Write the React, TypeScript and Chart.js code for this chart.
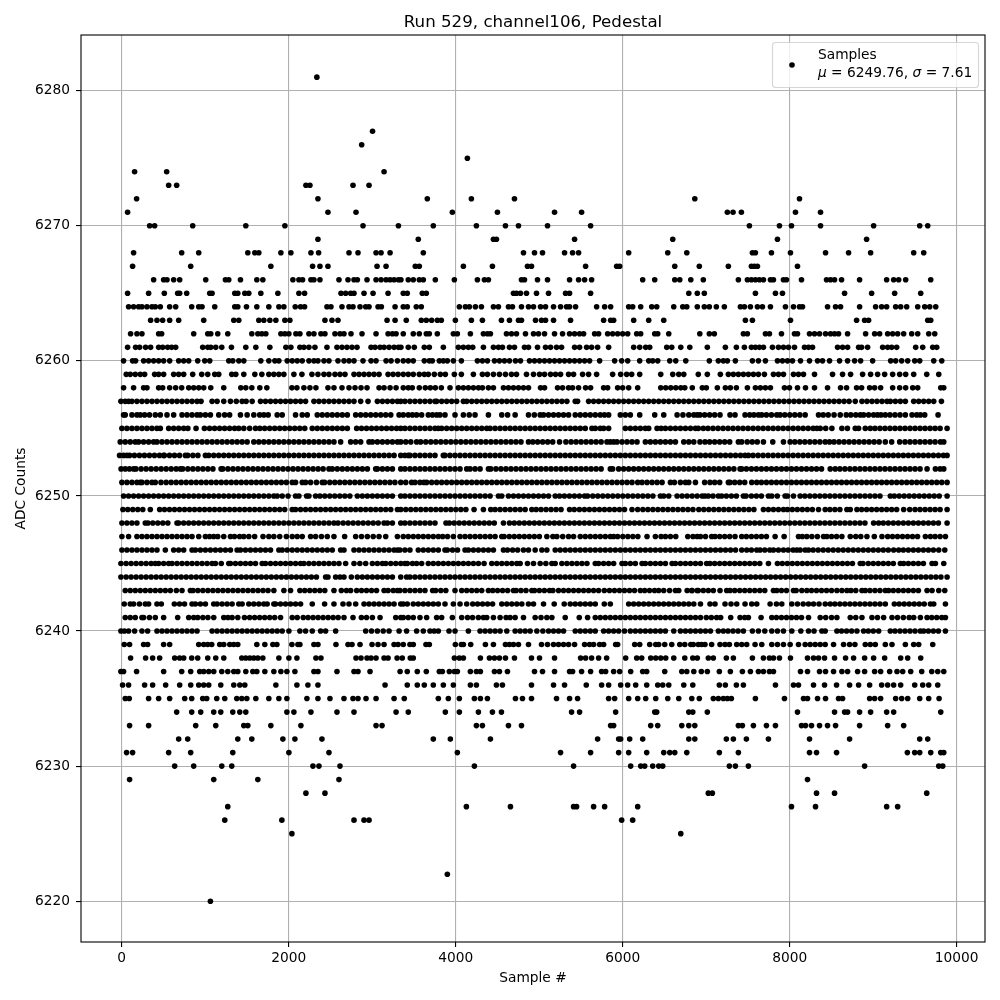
import React, { useEffect, useRef } from "react";
import { Chart, registerables } from "chart.js";

Chart.register(...registerables);

const chartTitle = "Run 529, channel106, Pedestal";
const xLabel = "Sample #";
const yLabel = "ADC Counts";
const legendName = "Samples";
const xTicks = [0, 2000, 4000, 6000, 8000, 10000];
const yTicks = [6220, 6230, 6240, 6250, 6260, 6270, 6280];
const READ_BIAS = 8;

const adc6281 = [2345];
const adc6277 = [3012];
const adc6276 = [2882];
const adc6275 = [4148];
const adc6274 = [162, 546, 3150];
const adc6273 = [570, 666, 2214, 2262, 2778, 2970];
const adc6272 = [186, 2358, 3668, 4196, 4712, 6872, 8126];
const adc6271 = [78, 2478, 2814, 3968, 4508, 5192, 5516, 7262, 7330, 7430, 8078, 8378];
const adc6270 = [342, 402, 858, 1494, 1962, 2898, 3322, 3740, 4256, 4604, 4760, 5108, 5624, 7526, 7886, 8030, 8378, 9014, 9566, 9662];
const adc6269 = [2358, 3560, 4460, 4496, 5432, 6608, 7862, 8930];
const adc6268 = [150, 726, 930, 1518, 1602, 1650, 1914, 2034, 2274, 2366, 2730, 2838, 3054, 3114, 3222, 3620, 4820, 4952, 5048, 5312, 5408, 5480, 6080, 6548, 6776, 7562, 7598, 7790, 8018, 8438, 8714, 8978, 9494, 9614];
const adc6267 = [138, 834, 1794, 2294, 2382, 2478, 3066, 3174, 3524, 3572, 4100, 4448, 4868, 4916, 5564, 5936, 5972, 6632, 6926, 7274, 7550, 7586, 7622, 8102];
const adc6266 = [390, 510, 550, 630, 702, 1014, 1250, 1290, 1430, 1626, 1698, 2058, 2130, 2174, 2274, 2310, 2382, 2610, 2718, 2790, 2830, 2946, 3054, 3114, 3174, 3222, 3270, 3322, 3352, 3440, 3500, 3572, 3620, 3764, 3992, 4268, 4352, 4400, 4796, 4832, 4988, 5108, 5372, 5480, 5552, 5636, 6248, 6392, 6632, 6692, 6824, 6974, 7394, 7502, 7550, 7598, 7646, 7694, 7778, 7814, 7934, 7970, 8150, 8450, 8498, 8546, 8630, 8846, 9170, 9254, 9314, 9398, 9698];
const adc6265 = [78, 330, 518, 678, 702, 786, 1062, 1090, 1362, 1398, 1482, 1530, 1674, 1878, 2130, 2198, 2634, 2690, 2750, 2790, 2910, 3018, 3198, 3380, 3428, 3608, 3656, 4700, 4736, 4784, 4856, 4976, 5120, 5324, 5372, 5624, 6800, 6902, 6986, 7598, 7838, 7922, 8666, 8990, 9266, 9578];
const adc6264 = [90, 150, 210, 250, 310, 370, 410, 470, 582, 654, 846, 930, 970, 1122, 1362, 1398, 1502, 1626, 1770, 1890, 1950, 2086, 2150, 2198, 2466, 2514, 2646, 2730, 2778, 2862, 2930, 2970, 3078, 3118, 3282, 3380, 3428, 3536, 3596, 4052, 4124, 4172, 4244, 4316, 4460, 4520, 4640, 4688, 4796, 4880, 4940, 5024, 5084, 5180, 5264, 5336, 5372, 5444, 5696, 5792, 5864, 6080, 6128, 6224, 6356, 6416, 6620, 6728, 6776, 6902, 6986, 7046, 7130, 7226, 7418, 7466, 7538, 7622, 7682, 7778, 7958, 8054, 8126, 8162, 8462, 8558, 8618, 8846, 9038, 9110, 9170, 9278, 9338, 9410, 9542, 9626, 9686, 9758];
const adc6263 = [354, 430, 498, 582, 690, 990, 1350, 1410, 1650, 1710, 1782, 1854, 1962, 2022, 2442, 2526, 2598, 3186, 3282, 3416, 3596, 3656, 3720, 3788, 3836, 4004, 4196, 4328, 4556, 4652, 4760, 4796, 4964, 5036, 5084, 5180, 5384, 5780, 5864, 5900, 6140, 6320, 6500, 7478, 7562, 8018, 8810, 8906, 8954, 9662, 9698];
const adc6262 = [114, 190, 250, 450, 486, 870, 1038, 1074, 1158, 1278, 1566, 1638, 1686, 1734, 1914, 1962, 2010, 2094, 2142, 2250, 2310, 2394, 2442, 2562, 2622, 2670, 2754, 2886, 3054, 3198, 3250, 3294, 3380, 3500, 3572, 3656, 3692, 3788, 3980, 4028, 4184, 4340, 4388, 4424, 4616, 4676, 4736, 4844, 4940, 5000, 5072, 5192, 5288, 5372, 5432, 5492, 5540, 5672, 5720, 5828, 5888, 5948, 6008, 6068, 6176, 6224, 6392, 6428, 6560, 6932, 7046, 7106, 7454, 7502, 7718, 7766, 7910, 8066, 8102, 8246, 8306, 8366, 8438, 8498, 8546, 8594, 8702, 8918, 9026, 9086, 9182, 9242, 9302, 9374, 9470, 9542, 9674, 9746];
const adc6261 = [78, 174, 222, 294, 354, 450, 498, 558, 606, 654, 978, 1038, 1074, 1134, 1206, 1322, 1494, 1614, 1782, 1974, 2034, 2142, 2190, 2250, 2322, 2466, 2586, 2646, 2706, 2766, 2826, 2994, 3042, 3102, 3150, 3210, 3270, 3322, 3352, 3440, 3512, 3632, 3692, 3860, 4040, 4100, 4160, 4212, 4340, 4460, 4520, 4568, 4652, 4712, 4832, 4880, 4988, 5084, 5144, 5216, 5276, 5432, 5492, 5576, 5636, 5708, 5840, 6140, 6212, 6284, 6332, 6536, 6596, 6704, 6812, 7022, 7238, 7370, 7466, 7550, 7598, 7646, 7694, 7802, 7874, 7934, 7994, 8066, 8186, 8234, 8282, 8582, 8642, 8702, 8834, 8870, 8942, 9122, 9182, 9230, 9290, 9518, 9602, 9722, 9770];
const adc6260 = [30, 138, 174, 270, 330, 390, 450, 510, 582, 690, 750, 810, 918, 1002, 1062, 1290, 1338, 1410, 1470, 1674, 1770, 1842, 1890, 1990, 2050, 2110, 2170, 2250, 2310, 2358, 2430, 2490, 2598, 2670, 2730, 2790, 2898, 2994, 3054, 3174, 3234, 3310, 3380, 3440, 3500, 3632, 3692, 3728, 3812, 3860, 3908, 3980, 4076, 4268, 4328, 4388, 4472, 4532, 4592, 4652, 4724, 4784, 4892, 4952, 5012, 5072, 5132, 5192, 5252, 5312, 5372, 5432, 5492, 5552, 5612, 5732, 5912, 5996, 6068, 6212, 6320, 6368, 6428, 6572, 6644, 6764, 7046, 7154, 7214, 7262, 7358, 7562, 7634, 7718, 7862, 7922, 7982, 8042, 8138, 8246, 8342, 8402, 8486, 8606, 8702, 8786, 8858, 9002, 9218, 9278, 9350, 9422, 9506, 9566, 9734, 9830];
const adc6259 = [62, 110, 170, 230, 282, 402, 450, 510, 630, 690, 750, 858, 966, 1038, 1122, 1170, 1326, 1374, 1470, 1602, 1686, 1770, 1830, 1890, 1950, 2070, 2166, 2286, 2358, 2430, 2490, 2562, 2622, 2682, 2790, 2850, 2910, 2970, 3030, 3090, 3198, 3258, 3318, 3380, 3440, 3500, 3572, 3632, 3680, 3752, 3824, 3884, 3992, 4076, 4220, 4328, 4388, 4460, 4532, 4604, 4676, 4736, 4856, 4940, 5012, 5072, 5144, 5204, 5264, 5360, 5420, 5528, 5600, 5696, 5888, 5984, 6056, 6116, 6212, 6464, 6608, 6680, 6740, 6914, 7022, 7178, 7274, 7334, 7394, 7454, 7514, 7574, 7634, 7706, 7814, 7874, 7934, 8054, 8114, 8174, 8306, 8522, 8642, 8738, 8882, 8978, 9062, 9146, 9242, 9326, 9398, 9494, 9650, 9794];
const adc6258 = [30, 150, 270, 310, 450, 498, 582, 654, 726, 810, 870, 930, 990, 1074, 1230, 1434, 1494, 1566, 1662, 1746, 2046, 2106, 2190, 2262, 2334, 2478, 2550, 2646, 2730, 2802, 2874, 2946, 3090, 3150, 3222, 3294, 3380, 3440, 3488, 3572, 3644, 3704, 3764, 3836, 3940, 4040, 4100, 4160, 4220, 4280, 4328, 4400, 4460, 4580, 4640, 4700, 4760, 4820, 4880, 5024, 5072, 5228, 5288, 5360, 5408, 5480, 5564, 5624, 5780, 5828, 5948, 6008, 6080, 6188, 6464, 6524, 6584, 6644, 6704, 6752, 6842, 6962, 7010, 7142, 7238, 7298, 7370, 7502, 7598, 7658, 7718, 7778, 7946, 8006, 8102, 8198, 8306, 8462, 8618, 8690, 8810, 8870, 8966, 9026, 9098, 9242, 9326, 9398, 9482, 9542, 9818, 9854];
const adc6257 = [-2, 50, 90, 130, 190, 250, 310, 370, 430, 490, 550, 610, 670, 730, 790, 850, 910, 958, 1090, 1150, 1230, 1310, 1380, 1450, 1498, 1570, 1670, 1730, 1790, 1850, 1910, 1970, 2030, 2090, 2150, 2210, 2310, 2370, 2430, 2490, 2550, 2610, 2670, 2730, 2790, 2870, 2958, 3070, 3130, 3190, 3250, 3310, 3350, 3400, 3460, 3520, 3580, 3640, 3700, 3760, 3780, 3840, 3900, 3960, 4020, 4100, 4140, 4200, 4260, 4320, 4380, 4440, 4500, 4560, 4620, 4680, 4740, 4800, 4860, 4920, 4980, 5040, 5100, 5160, 5220, 5280, 5340, 5440, 5468, 5600, 5660, 5720, 5780, 5840, 5900, 5960, 6020, 6080, 6140, 6200, 6260, 6320, 6380, 6440, 6500, 6560, 6620, 6680, 6740, 6800, 6860, 6920, 6980, 7040, 7100, 7160, 7220, 7280, 7340, 7400, 7460, 7520, 7580, 7640, 7700, 7760, 7820, 7880, 7940, 8000, 8060, 8120, 8180, 8240, 8300, 8360, 8420, 8480, 8540, 8600, 8660, 8720, 8794, 8874, 8934, 8994, 9054, 9114, 9174, 9214, 9274, 9334, 9394, 9494, 9554, 9614, 9674, 9734, 9826];
const adc6256 = [30, 50, 130, 190, 230, 282, 340, 410, 470, 550, 630, 730, 790, 850, 910, 950, 1010, 1070, 1170, 1240, 1300, 1430, 1510, 1590, 1660, 1710, 1762, 1870, 1930, 2090, 2170, 2230, 2350, 2410, 2470, 2530, 2590, 2650, 2710, 2810, 2870, 2930, 2990, 3050, 3110, 3170, 3230, 3330, 3380, 3440, 3490, 3540, 3600, 3680, 3730, 3780, 3820, 3880, 4000, 4100, 4170, 4240, 4400, 4560, 4630, 4720, 4880, 4950, 5020, 5060, 5120, 5180, 5240, 5300, 5360, 5440, 5500, 5560, 5620, 5680, 5740, 5790, 5840, 5980, 6040, 6100, 6212, 6392, 6500, 6660, 6730, 6800, 6860, 6900, 6934, 6990, 7050, 7110, 7174, 7294, 7354, 7474, 7530, 7580, 7634, 7674, 7730, 7790, 7854, 7894, 7950, 8010, 8070, 8130, 8194, 8354, 8410, 8470, 8540, 8614, 8686, 8740, 8800, 8854, 8894, 8954, 9014, 9060, 9102, 9154, 9210, 9270, 9330, 9394, 9474, 9530, 9574, 9626, 9786];
const adc6255 = [10, 70, 130, 190, 250, 310, 370, 430, 470, 570, 630, 690, 750, 800, 898, 998, 1060, 1120, 1180, 1240, 1300, 1360, 1410, 1470, 1540, 1610, 1662, 1720, 1780, 1840, 1900, 1960, 2020, 2080, 2140, 2200, 2290, 2350, 2410, 2470, 2530, 2590, 2650, 2710, 2822, 2880, 2940, 3000, 3060, 3120, 3180, 3240, 3300, 3350, 3400, 3460, 3520, 3580, 3640, 3700, 3760, 3800, 3840, 3900, 3960, 4020, 4080, 4140, 4200, 4260, 4320, 4380, 4420, 4480, 4540, 4600, 4660, 4720, 4780, 4840, 4900, 4960, 5020, 5080, 5140, 5200, 5260, 5320, 5380, 5440, 5500, 5560, 5640, 5680, 5740, 5780, 5840, 6040, 6100, 6160, 6220, 6280, 6320, 6420, 6468, 6520, 6580, 6640, 6700, 6760, 6820, 6880, 6914, 6974, 7030, 7090, 7150, 7210, 7270, 7330, 7390, 7450, 7510, 7570, 7630, 7690, 7750, 7810, 7870, 7930, 7990, 8050, 8110, 8170, 8230, 8290, 8334, 8374, 8440, 8514, 8634, 8700, 8794, 8834, 8914, 8974, 9030, 9090, 9150, 9210, 9270, 9330, 9390, 9450, 9510, 9570, 9630, 9690, 9750, 9810, 9894];
const adc6254 = [-10, 50, 110, 170, 210, 270, 330, 390, 430, 490, 550, 610, 670, 730, 790, 850, 910, 970, 1030, 1090, 1150, 1210, 1270, 1330, 1390, 1450, 1510, 1590, 1650, 1710, 1770, 1830, 1890, 1950, 2010, 2070, 2130, 2190, 2250, 2310, 2370, 2430, 2490, 2550, 2630, 2750, 2810, 2870, 2970, 3010, 3070, 3130, 3190, 3250, 3310, 3350, 3410, 3470, 3540, 3588, 3650, 3710, 3770, 3830, 3890, 3950, 4010, 4070, 4130, 4190, 4250, 4310, 4370, 4430, 4490, 4550, 4610, 4670, 4730, 4790, 4880, 4932, 4990, 5050, 5110, 5170, 5252, 5328, 5390, 5450, 5510, 5570, 5630, 5690, 5750, 5820, 5860, 5900, 5940, 6000, 6060, 6120, 6180, 6280, 6340, 6400, 6460, 6520, 6580, 6640, 6740, 6800, 6860, 6934, 6994, 7050, 7110, 7170, 7230, 7290, 7394, 7434, 7500, 7560, 7620, 7694, 7806, 7934, 8014, 8070, 8130, 8190, 8250, 8310, 8370, 8434, 8486, 8540, 8600, 8660, 8720, 8780, 8840, 8900, 8960, 9020, 9080, 9154, 9230, 9326, 9390, 9450, 9510, 9570, 9630, 9690, 9750, 9814, 9854];
const adc6253 = [-18, 30, 70, 102, 160, 220, 280, 340, 400, 460, 510, 518, 580, 640, 700, 770, 798, 860, 920, 1010, 1050, 1110, 1170, 1230, 1290, 1350, 1410, 1470, 1530, 1590, 1650, 1710, 1770, 1830, 1890, 1950, 2010, 2070, 2130, 2190, 2250, 2310, 2370, 2430, 2490, 2550, 2610, 2670, 2730, 2790, 2850, 2910, 2970, 3030, 3090, 3150, 3210, 3270, 3350, 3400, 3440, 3460, 3520, 3580, 3640, 3700, 3760, 3860, 3880, 3940, 4000, 4060, 4120, 4180, 4240, 4300, 4360, 4420, 4480, 4540, 4600, 4660, 4720, 4780, 4840, 4900, 4960, 5020, 5080, 5140, 5200, 5260, 5320, 5380, 5440, 5500, 5560, 5620, 5680, 5740, 5800, 5860, 5920, 5980, 6040, 6100, 6160, 6220, 6280, 6340, 6400, 6460, 6520, 6580, 6640, 6700, 6760, 6820, 6880, 6940, 7000, 7060, 7120, 7180, 7240, 7300, 7360, 7420, 7474, 7514, 7570, 7630, 7690, 7750, 7810, 7870, 7930, 7990, 8050, 8110, 8170, 8230, 8290, 8350, 8410, 8470, 8530, 8590, 8650, 8710, 8770, 8830, 8890, 8950, 9010, 9070, 9130, 9190, 9250, 9310, 9370, 9430, 9490, 9550, 9610, 9670, 9730, 9790, 9850, 9894];
const adc6252 = [0, 50, 100, 150, 178, 240, 300, 360, 420, 480, 540, 600, 660, 710, 738, 800, 860, 920, 980, 1040, 1100, 1198, 1218, 1280, 1340, 1400, 1460, 1520, 1580, 1640, 1700, 1760, 1820, 1880, 1940, 2000, 2060, 2120, 2180, 2240, 2300, 2360, 2420, 2490, 2530, 2590, 2650, 2710, 2770, 2830, 2890, 2950, 3050, 3070, 3130, 3190, 3250, 3350, 3400, 3460, 3520, 3580, 3640, 3700, 3760, 3820, 3880, 3940, 4000, 4060, 4140, 4180, 4240, 4300, 4400, 4428, 4490, 4550, 4610, 4670, 4730, 4790, 4850, 4910, 4970, 5030, 5090, 5150, 5210, 5270, 5330, 5390, 5450, 5510, 5570, 5630, 5690, 5750, 5860, 5888, 5960, 6020, 6080, 6140, 6200, 6260, 6320, 6380, 6440, 6500, 6560, 6620, 6680, 6740, 6800, 6860, 6920, 6980, 7040, 7100, 7160, 7220, 7280, 7340, 7414, 7434, 7490, 7550, 7610, 7670, 7730, 7790, 7850, 7910, 7970, 8030, 8090, 8150, 8210, 8270, 8330, 8390, 8494, 8554, 8610, 8670, 8730, 8790, 8850, 8910, 8970, 9030, 9090, 9150, 9210, 9270, 9330, 9390, 9450, 9510, 9570, 9654, 9754, 9810, 9854];
const adc6251 = [10, 70, 130, 190, 230, 250, 310, 370, 410, 478, 540, 600, 660, 720, 780, 840, 900, 960, 1020, 1080, 1140, 1200, 1260, 1320, 1380, 1440, 1500, 1560, 1620, 1680, 1740, 1800, 1860, 1920, 1980, 2050, 2090, 2170, 2210, 2270, 2340, 2410, 2438, 2500, 2560, 2620, 2680, 2740, 2800, 2860, 2920, 2980, 3040, 3100, 3160, 3220, 3280, 3350, 3410, 3480, 3520, 3580, 3628, 3660, 3720, 3780, 3840, 3900, 3960, 4020, 4080, 4140, 4200, 4260, 4320, 4380, 4440, 4500, 4560, 4620, 4680, 4740, 4800, 4860, 4920, 4980, 5040, 5100, 5160, 5220, 5280, 5340, 5400, 5460, 5520, 5580, 5640, 5700, 5760, 5820, 5880, 5940, 6000, 6060, 6120, 6188, 6240, 6300, 6360, 6420, 6480, 6580, 6628, 6700, 6760, 6800, 6880, 6990, 7054, 7110, 7170, 7274, 7294, 7350, 7410, 7470, 7554, 7614, 7670, 7730, 7790, 7850, 7910, 7970, 8030, 8090, 8150, 8210, 8270, 8330, 8390, 8450, 8510, 8570, 8630, 8690, 8750, 8810, 8870, 8930, 8990, 9050, 9110, 9170, 9230, 9290, 9350, 9410, 9470, 9530, 9590, 9650, 9710, 9770, 9830, 9894];
const adc6250 = [30, 90, 150, 210, 270, 330, 390, 450, 510, 570, 630, 690, 750, 810, 870, 930, 990, 1050, 1110, 1170, 1230, 1290, 1350, 1410, 1470, 1530, 1590, 1650, 1710, 1770, 1830, 1870, 1930, 2000, 2090, 2130, 2222, 2250, 2330, 2382, 2440, 2500, 2560, 2620, 2680, 2740, 2830, 2890, 2950, 3010, 3070, 3130, 3190, 3250, 3350, 3400, 3460, 3520, 3580, 3640, 3700, 3760, 3820, 3880, 3940, 4000, 4060, 4120, 4180, 4240, 4300, 4360, 4420, 4520, 4560, 4640, 4700, 4760, 4820, 4880, 4940, 5000, 5060, 5120, 5200, 5252, 5310, 5370, 5430, 5490, 5552, 5588, 5650, 5710, 5770, 5830, 5890, 5950, 6010, 6070, 6130, 6190, 6250, 6310, 6370, 6460, 6500, 6560, 6660, 6720, 6780, 6840, 6900, 6960, 6994, 7034, 7090, 7154, 7194, 7250, 7310, 7370, 7454, 7486, 7550, 7610, 7670, 7754, 7794, 7860, 7954, 7982, 8054, 8134, 8190, 8250, 8310, 8370, 8430, 8490, 8550, 8610, 8670, 8730, 8790, 8850, 8910, 8970, 9030, 9090, 9214, 9262, 9320, 9380, 9440, 9500, 9560, 9620, 9680, 9740, 9800, 9894];
const adc6249 = [22, 80, 140, 200, 260, 350, 462, 520, 580, 640, 700, 760, 820, 880, 940, 1000, 1060, 1120, 1180, 1240, 1300, 1360, 1420, 1480, 1540, 1600, 1660, 1720, 1780, 1840, 1900, 1960, 2050, 2090, 2150, 2210, 2270, 2330, 2390, 2450, 2510, 2570, 2630, 2690, 2750, 2810, 2870, 2930, 2990, 3050, 3110, 3170, 3230, 3310, 3350, 3410, 3470, 3530, 3590, 3650, 3710, 3770, 3830, 3890, 3950, 4010, 4070, 4130, 4228, 4340, 4428, 4480, 4540, 4600, 4660, 4720, 4780, 4840, 4920, 4972, 5030, 5090, 5150, 5210, 5270, 5372, 5428, 5490, 5550, 5610, 5670, 5730, 5790, 5850, 5910, 5970, 6030, 6120, 6188, 6250, 6310, 6370, 6430, 6490, 6550, 6610, 6670, 6730, 6790, 6850, 6920, 6980, 7040, 7100, 7160, 7220, 7280, 7340, 7400, 7460, 7520, 7580, 7694, 7754, 7814, 7874, 7934, 7982, 8040, 8100, 8160, 8220, 8280, 8354, 8434, 8490, 8550, 8610, 8694, 8734, 8814, 8870, 8930, 8990, 9050, 9110, 9170, 9230, 9290, 9374, 9446, 9510, 9570, 9630, 9690, 9750, 9810, 9894];
const adc6248 = [10, 70, 130, 190, 290, 322, 380, 440, 500, 560, 670, 690, 750, 810, 870, 930, 990, 1050, 1110, 1170, 1230, 1290, 1350, 1410, 1470, 1530, 1590, 1650, 1710, 1770, 1830, 1890, 1950, 2010, 2070, 2130, 2190, 2250, 2310, 2370, 2430, 2490, 2550, 2598, 2660, 2720, 2780, 2840, 2900, 2960, 3020, 3080, 3150, 3190, 3250, 3350, 3400, 3460, 3520, 3580, 3640, 3700, 3760, 3892, 3932, 3990, 4050, 4110, 4170, 4230, 4290, 4350, 4410, 4470, 4580, 4652, 4710, 4770, 4830, 4890, 4950, 5010, 5070, 5130, 5190, 5250, 5310, 5370, 5430, 5490, 5550, 5610, 5670, 5730, 5790, 5850, 5910, 5970, 6030, 6090, 6150, 6210, 6270, 6330, 6390, 6450, 6510, 6570, 6630, 6690, 6750, 6810, 6870, 6930, 6990, 7050, 7110, 7170, 7230, 7290, 7350, 7410, 7470, 7530, 7590, 7650, 7710, 7770, 7830, 7890, 7950, 8010, 8070, 8130, 8190, 8250, 8310, 8370, 8430, 8490, 8550, 8610, 8670, 8730, 8790, 8850, 8910, 9014, 9074, 9130, 9190, 9250, 9310, 9370, 9430, 9490, 9550, 9610, 9670, 9730, 9790, 9894];
const adc6247 = [10, 90, 190, 250, 310, 370, 430, 490, 550, 610, 670, 730, 790, 850, 930, 1010, 1060, 1110, 1158, 1230, 1310, 1358, 1420, 1470, 1530, 1600, 1700, 1770, 1830, 1900, 1980, 2050, 2110, 2170, 2270, 2330, 2400, 2470, 2550, 2678, 2810, 2880, 2950, 3020, 3090, 3170, 3310, 3380, 3440, 3500, 3560, 3620, 3680, 3740, 3800, 3852, 3910, 3980, 4060, 4120, 4180, 4240, 4300, 4360, 4420, 4480, 4560, 4588, 4650, 4710, 4770, 4830, 4890, 4950, 5010, 5100, 5172, 5220, 5290, 5360, 5420, 5500, 5560, 5620, 5680, 5740, 5800, 5860, 5900, 5948, 6010, 6070, 6130, 6190, 6300, 6400, 6468, 6520, 6580, 6644, 6788, 6850, 6900, 6940, 7000, 7074, 7114, 7170, 7230, 7290, 7354, 7434, 7490, 7550, 7610, 7670, 7730, 7834, 7942, 8114, 8160, 8214, 8274, 8340, 8414, 8454, 8510, 8570, 8634, 8734, 8800, 8860, 8934, 9022, 9114, 9182, 9240, 9300, 9360, 9420, 9480, 9540, 9634, 9694, 9750, 9810, 9874];
const adc6246 = [10, 70, 130, 190, 250, 310, 370, 430, 530, 630, 690, 750, 850, 890, 950, 1010, 1070, 1130, 1190, 1250, 1310, 1390, 1430, 1490, 1550, 1610, 1670, 1730, 1790, 1890, 1930, 1990, 2050, 2110, 2170, 2230, 2290, 2350, 2410, 2470, 2530, 2630, 2670, 2790, 2850, 2910, 2970, 3030, 3090, 3150, 3210, 3270, 3310, 3340, 3400, 3460, 3560, 3620, 3680, 3740, 3800, 3880, 3908, 3970, 4030, 4120, 4160, 4220, 4280, 4340, 4400, 4460, 4580, 4628, 4690, 4750, 4820, 4880, 4960, 5040, 5100, 5200, 5260, 5320, 5380, 5440, 5500, 5560, 5620, 5680, 5740, 5800, 5860, 5920, 5980, 6040, 6100, 6160, 6220, 6280, 6340, 6400, 6460, 6520, 6580, 6640, 6700, 6760, 6820, 6880, 6940, 7000, 7060, 7120, 7180, 7240, 7300, 7360, 7434, 7494, 7550, 7614, 7654, 7710, 7770, 7814, 7874, 7934, 7990, 8050, 8094, 8134, 8194, 8234, 8290, 8350, 8410, 8470, 8530, 8590, 8650, 8710, 8770, 8830, 8890, 8950, 9010, 9070, 9130, 9190, 9254, 9314, 9370, 9430, 9490, 9550, 9610, 9670, 9730, 9794, 9866];
const adc6245 = [-2, 60, 120, 180, 240, 300, 360, 410, 450, 510, 570, 610, 670, 730, 790, 850, 910, 970, 1030, 1090, 1130, 1200, 1290, 1310, 1370, 1430, 1490, 1550, 1610, 1690, 1730, 1790, 1850, 1910, 1970, 2030, 2090, 2150, 2190, 2250, 2310, 2370, 2430, 2490, 2550, 2610, 2690, 2790, 2860, 2930, 3010, 3070, 3130, 3170, 3230, 3290, 3350, 3400, 3428, 3490, 3540, 3600, 3680, 3740, 3800, 3860, 3920, 3980, 4040, 4100, 4160, 4220, 4280, 4348, 4440, 4500, 4560, 4620, 4680, 4740, 4780, 4868, 4940, 5020, 5088, 5160, 5200, 5280, 5340, 5400, 5460, 5520, 5580, 5680, 5720, 5780, 5840, 5900, 6000, 6040, 6100, 6160, 6240, 6280, 6340, 6400, 6460, 6520, 6600, 6640, 6700, 6760, 6820, 6880, 6940, 7014, 7054, 7110, 7170, 7230, 7290, 7350, 7410, 7470, 7530, 7590, 7650, 7754, 7862, 7920, 7980, 8040, 8100, 8160, 8220, 8280, 8340, 8400, 8460, 8520, 8580, 8640, 8700, 8760, 8854, 8886, 8950, 9010, 9070, 9130, 9190, 9250, 9334, 9374, 9430, 9490, 9550, 9610, 9714, 9754, 9854];
const adc6244 = [-2, 60, 120, 180, 240, 300, 360, 420, 480, 540, 600, 660, 720, 780, 840, 900, 960, 1020, 1080, 1140, 1200, 1260, 1320, 1380, 1440, 1500, 1560, 1620, 1680, 1740, 1800, 1860, 1920, 1980, 2040, 2100, 2160, 2220, 2280, 2340, 2450, 2478, 2570, 2622, 2670, 2758, 2830, 2890, 2950, 3010, 3070, 3130, 3190, 3250, 3350, 3420, 3460, 3520, 3580, 3640, 3700, 3760, 3820, 3880, 3940, 4000, 4060, 4120, 4180, 4240, 4300, 4360, 4420, 4480, 4540, 4600, 4660, 4720, 4780, 4840, 4900, 4960, 5020, 5080, 5140, 5200, 5260, 5320, 5380, 5440, 5500, 5560, 5620, 5680, 5740, 5800, 5860, 5920, 5980, 6040, 6100, 6160, 6220, 6280, 6340, 6400, 6460, 6520, 6580, 6640, 6700, 6760, 6820, 6880, 6940, 7000, 7060, 7120, 7180, 7240, 7300, 7360, 7420, 7480, 7540, 7600, 7660, 7720, 7780, 7840, 7900, 7960, 8020, 8080, 8140, 8200, 8260, 8320, 8380, 8440, 8500, 8560, 8620, 8680, 8740, 8800, 8860, 8920, 8980, 9040, 9100, 9160, 9220, 9280, 9340, 9400, 9460, 9520, 9580, 9640, 9700, 9760, 9820, 9894];
const adc6243 = [50, 110, 170, 230, 290, 350, 410, 470, 530, 590, 662, 730, 830, 862, 920, 980, 1040, 1100, 1160, 1220, 1280, 1340, 1400, 1460, 1520, 1580, 1640, 1700, 1760, 1830, 1950, 2030, 2142, 2200, 2260, 2320, 2380, 2440, 2550, 2638, 2700, 2750, 2822, 2880, 2940, 3000, 3060, 3150, 3198, 3260, 3310, 3340, 3400, 3460, 3520, 3580, 3640, 3732, 3768, 3830, 3890, 4000, 4080, 4140, 4200, 4260, 4320, 4400, 4452, 4510, 4570, 4630, 4700, 4732, 4790, 4850, 4920, 4952, 5010, 5070, 5132, 5172, 5240, 5300, 5360, 5420, 5480, 5540, 5600, 5660, 5720, 5788, 5850, 5910, 5970, 6030, 6090, 6150, 6220, 6272, 6330, 6390, 6440, 6500, 6570, 6640, 6680, 6780, 6840, 6900, 6834, 6914, 6974, 7034, 7094, 7174, 7254, 7294, 7350, 7410, 7470, 7530, 7590, 7650, 7710, 7814, 7854, 7910, 7970, 8054, 8086, 8154, 8214, 8270, 8330, 8390, 8450, 8510, 8574, 8634, 8694, 8742, 8800, 8874, 8914, 8970, 9030, 9090, 9154, 9194, 9250, 9310, 9370, 9430, 9490, 9550, 9654, 9714, 9794, 9866];
const adc6242 = [38, 110, 150, 220, 290, 330, 430, 482, 638, 700, 760, 850, 890, 950, 1010, 1110, 1150, 1210, 1270, 1330, 1410, 1450, 1530, 1590, 1650, 1710, 1750, 1830, 1850, 1910, 1970, 2030, 2090, 2150, 2290, 2438, 2550, 2658, 2730, 2810, 2910, 2970, 3030, 3090, 3150, 3210, 3270, 3350, 3380, 3428, 3500, 3560, 3620, 3680, 3740, 3800, 3880, 3980, 4060, 4140, 4212, 4270, 4330, 4390, 4450, 4560, 4620, 4680, 4740, 4800, 4880, 4940, 5060, 5188, 5308, 5380, 5440, 5500, 5560, 5620, 5680, 5788, 5860, 6080, 6140, 6200, 6260, 6320, 6380, 6440, 6500, 6560, 6620, 6680, 6740, 6800, 6860, 6940, 7054, 7114, 7234, 7306, 7374, 7474, 7554, 7614, 7774, 7850, 7914, 8034, 8102, 8170, 8234, 8294, 8360, 8434, 8494, 8550, 8610, 8670, 8730, 8790, 8850, 8910, 8970, 9030, 9090, 9154, 9262, 9320, 9380, 9440, 9500, 9560, 9620, 9694, 9734, 9874];
const adc6241 = [50, 110, 170, 250, 270, 340, 410, 510, 678, 810, 870, 918, 980, 1040, 1110, 1230, 1280, 1330, 1398, 1478, 1540, 1600, 1660, 1720, 1780, 1840, 1910, 2050, 2110, 2182, 2240, 2300, 2360, 2420, 2480, 2540, 2600, 2670, 2778, 2878, 2940, 3010, 3102, 3290, 3350, 3380, 3440, 3500, 3580, 3660, 3780, 3840, 3968, 4080, 4150, 4210, 4280, 4340, 4380, 4460, 4540, 4612, 4660, 4720, 4820, 4960, 5030, 5100, 5160, 5320, 5488, 5588, 5680, 5740, 5800, 5860, 5920, 5980, 6040, 6100, 6160, 6220, 6280, 6340, 6400, 6460, 6520, 6580, 6640, 6700, 6760, 6820, 6880, 6940, 7010, 7070, 7134, 7182, 7302, 7414, 7470, 7514, 7666, 7794, 7850, 7910, 7970, 8030, 8090, 8150, 8234, 8374, 8440, 8510, 8574, 8734, 8800, 8874, 8994, 9060, 9134, 9234, 9300, 9370, 9440, 9494, 9574, 9654, 9710, 9770, 9830, 9874];
const adc6240 = [-2, 40, 90, 162, 250, 318, 430, 490, 550, 610, 670, 730, 790, 850, 910, 1090, 1150, 1210, 1270, 1330, 1390, 1450, 1510, 1570, 1630, 1690, 1750, 1810, 1870, 1930, 2010, 2142, 2210, 2290, 2390, 2450, 2570, 2930, 3000, 3070, 3140, 3210, 3330, 3420, 3540, 3620, 3700, 3750, 3800, 3928, 4000, 4160, 4300, 4360, 4420, 4480, 4540, 4620, 4720, 4780, 4840, 4900, 4980, 5052, 5120, 5180, 5240, 5300, 5440, 5500, 5560, 5620, 5680, 5780, 5840, 5900, 5960, 6030, 6100, 6160, 6220, 6280, 6340, 6400, 6460, 6520, 6620, 6700, 6760, 6820, 6880, 6940, 7000, 7060, 7154, 7214, 7270, 7330, 7390, 7454, 7562, 7634, 7710, 7794, 7862, 7934, 8034, 8142, 8234, 8300, 8394, 8434, 8574, 8630, 8690, 8750, 8814, 8894, 8950, 9010, 9074, 9214, 9270, 9330, 9390, 9450, 9510, 9574, 9614, 9670, 9730, 9790, 9874];
const adc6239 = [38, 102, 270, 318, 510, 582, 930, 990, 1038, 1086, 1182, 1230, 1302, 1350, 1398, 1626, 1722, 1818, 1866, 2046, 2118, 2142, 2310, 2358, 2574, 2718, 2766, 2862, 3006, 3078, 3150, 3270, 3318, 3380, 3460, 3500, 3652, 3692, 4004, 4076, 4100, 4188, 4364, 4460, 4604, 4652, 4700, 4760, 4880, 5036, 5108, 5180, 5240, 5300, 5360, 5432, 5552, 5612, 5660, 5732, 5780, 5924, 5948, 6152, 6212, 6332, 6404, 6440, 6512, 6596, 6692, 6752, 6824, 6854, 6914, 6954, 6994, 7074, 7174, 7234, 7286, 7374, 7434, 7494, 7594, 7674, 7794, 7862, 7934, 8014, 8114, 8194, 8254, 8314, 8374, 8434, 8534, 8654, 8726, 8790, 8914, 8974, 9034, 9154, 9234, 9394, 9494, 9554, 9722];
const adc6238 = [114, 294, 378, 462, 642, 702, 750, 846, 918, 1038, 1134, 1230, 1446, 1494, 1542, 1590, 1638, 1698, 1890, 2010, 2106, 2334, 2394, 2814, 2874, 2946, 2994, 3054, 3150, 3198, 3306, 3368, 3464, 3500, 3992, 4052, 4100, 4304, 4412, 4472, 4532, 4604, 4712, 4916, 5012, 5192, 5504, 5564, 5636, 5720, 5816, 6044, 6176, 6236, 6344, 6404, 6464, 6524, 6620, 6752, 6848, 6902, 7034, 7094, 7250, 7334, 7562, 7694, 7766, 7814, 7886, 8018, 8222, 8294, 8354, 8426, 8546, 8678, 8774, 8906, 9014, 9146, 9338, 9422, 9578];
const adc6237 = [-2, 30, 186, 510, 726, 834, 942, 990, 1050, 1110, 1206, 1278, 1350, 1398, 1494, 1578, 1626, 1722, 1830, 1914, 1986, 2082, 2310, 2358, 2586, 2790, 2838, 2982, 3342, 3428, 3548, 3656, 3812, 3848, 3932, 3992, 4028, 4184, 4256, 4304, 4472, 4532, 4628, 4952, 5048, 5192, 5372, 5408, 5516, 5624, 5756, 5804, 5900, 5972, 6104, 6248, 6296, 6512, 6716, 6776, 6860, 6950, 7022, 7166, 7298, 7442, 7538, 7634, 7694, 7766, 7814, 8138, 8222, 8366, 8438, 8534, 8634, 8702, 8822, 8906, 9026, 9098, 9206, 9294, 9362, 9458, 9590, 9710, 9782, 9854];
const adc6236 = [18, 90, 282, 378, 534, 702, 834, 930, 990, 1050, 1194, 1350, 1422, 1482, 1854, 2106, 2238, 2358, 3162, 3428, 3548, 3632, 3740, 3860, 3980, 4184, 4256, 4496, 4568, 4916, 5180, 5312, 5572, 5756, 5840, 5984, 6068, 6164, 6296, 6428, 6488, 6560, 6740, 6848, 7166, 7238, 7370, 7454, 7838, 8054, 8114, 8294, 8426, 8570, 8726, 8834, 8966, 9110, 9182, 9254, 9338, 9506, 9602, 9674, 9782];
const adc6235 = [50, 98, 330, 450, 582, 762, 846, 978, 1026, 1146, 1242, 1386, 1446, 1506, 1614, 1770, 1890, 1986, 2226, 2358, 2502, 2670, 2778, 2838, 2934, 3054, 3270, 3392, 3800, 3920, 4052, 4232, 4304, 4388, 4724, 4808, 4916, 5216, 5372, 5468, 5840, 5912, 6080, 6188, 6284, 6404, 6548, 6680, 6836, 6926, 7094, 7154, 7214, 7262, 7310, 7598, 7946, 8174, 8222, 8342, 8438, 8594, 8642, 8966, 9026, 9098, 9278, 9350, 9422, 9566, 9674, 9798];
const adc6234 = [666, 846, 954, 1110, 1194, 1338, 1422, 1494, 1986, 2070, 2274, 2586, 2790, 3294, 3440, 3884, 4052, 4280, 4448, 4556, 5396, 5492, 5924, 6392, 6416, 6800, 6848, 7022, 8102, 8546, 8666, 8702, 8846, 8978, 9170, 9254, 9818];
const adc6233 = [102, 330, 894, 1134, 1470, 1518, 1794, 2154, 3054, 3126, 4256, 4328, 4640, 4796, 5864, 5900, 6344, 6428, 6716, 6800, 6872, 7394, 7442, 7574, 7730, 7838, 8150, 8198, 8270, 8366, 8462, 8558, 8846, 9182, 9374];
const adc6232 = [690, 798, 1398, 1566, 1938, 2082, 2406, 3740, 3944, 4424, 5708, 5960, 5984, 6092, 6248, 6800, 6872, 7250, 7334, 7490, 7754, 8246, 8726, 9566, 9662];
const adc6231 = [66, 138, 570, 834, 1338, 2010, 2490, 4028, 5264, 5624, 5960, 6080, 6296, 6500, 6572, 6632, 6776, 7166, 7394, 8246, 8330, 8570, 9418, 9506, 9566, 9698, 9818, 9854];
const adc6230 = [642, 870, 1206, 1326, 2298, 2370, 2622, 4232, 5420, 6104, 6224, 6272, 6368, 6440, 6488, 7286, 7358, 7514, 8906, 9794, 9842];
const adc6229 = [102, 1110, 1638, 2610, 8222];
const adc6228 = [2214, 2442, 7034, 7082, 8330, 8546, 9650];
const adc6227 = [1278, 4136, 4664, 5420, 5456, 5660, 5792, 6188, 8030, 8318, 9170, 9302];
const adc6226 = [1242, 1926, 2790, 2910, 2970, 5996, 6128];
const adc6225 = [2046, 6704];
const adc6222 = [3908];
const adc6220 = [1070];

const levels: [number, number[]][] = [
  [6281, adc6281], [6277, adc6277], [6276, adc6276], [6275, adc6275], [6274, adc6274], [6273, adc6273],
  [6272, adc6272], [6271, adc6271], [6270, adc6270], [6269, adc6269], [6268, adc6268], [6267, adc6267],
  [6266, adc6266], [6265, adc6265], [6264, adc6264], [6263, adc6263], [6262, adc6262], [6261, adc6261],
  [6260, adc6260], [6259, adc6259], [6258, adc6258], [6257, adc6257], [6256, adc6256], [6255, adc6255],
  [6254, adc6254], [6253, adc6253], [6252, adc6252], [6251, adc6251], [6250, adc6250], [6249, adc6249],
  [6248, adc6248], [6247, adc6247], [6246, adc6246], [6245, adc6245], [6244, adc6244], [6243, adc6243],
  [6242, adc6242], [6241, adc6241], [6240, adc6240], [6239, adc6239], [6238, adc6238], [6237, adc6237],
  [6236, adc6236], [6235, adc6235], [6234, adc6234], [6233, adc6233], [6232, adc6232], [6231, adc6231],
  [6230, adc6230], [6229, adc6229], [6228, adc6228], [6227, adc6227], [6226, adc6226], [6225, adc6225],
  [6222, adc6222], [6220, adc6220],
];

const FONT = '"DejaVu Sans"';

const frameAndLegend = {
  id: "frameAndLegend",
  afterDraw(chart: any) {
    const { ctx, chartArea: a } = chart;
    ctx.save();
    ctx.strokeStyle = "#000";
    ctx.lineWidth = 1.1;
    ctx.strokeRect(a.left, a.top, a.right - a.left, a.bottom - a.top);

    ctx.beginPath();
    ctx.roundRect(772.5, 42.5, 206, 45, 3);
    ctx.fillStyle = "rgba(255,255,255,0.8)";
    ctx.fill();
    ctx.strokeStyle = "rgba(204,204,204,0.8)";
    ctx.lineWidth = 1.1;
    ctx.stroke();

    ctx.fillStyle = "#000";
    ctx.beginPath();
    ctx.arc(792, 65, 2.8, 0, Math.PI * 2);
    ctx.fill();

    ctx.textAlign = "left";
    ctx.textBaseline = "alphabetic";
    const regular = `13.75px ${FONT}`;
    const italic = `italic 13.75px ${FONT}`;
    ctx.font = regular;
    ctx.fillText(legendName, 818, 59);
    let x = 818;
    const parts: [string, string][] = [
      ["\u03bc", italic],
      [" = 6249.76, ", regular],
      ["\u03c3", italic],
      [" = 7.61", regular],
    ];
    for (const [text, font] of parts) {
      ctx.font = font;
      ctx.fillText(text, x, 76.5);
      x += ctx.measureText(text).width;
    }
    ctx.restore();
  },
};

export default function App() {
  const ref = useRef<HTMLCanvasElement>(null);
  useEffect(() => {
    const points = levels.flatMap(([level, samples]) =>
      samples.map((s) => ({ x: s - READ_BIAS, y: level }))
    );
    const chart = new Chart(ref.current!, {
      type: "scatter",
      data: {
        datasets: [
          {
            label: legendName,
            data: points,
            backgroundColor: "#000",
            borderWidth: 0,
            pointRadius: 2.8,
            pointHoverRadius: 2.8,
          },
        ],
      },
      options: {
        animation: false,
        responsive: false,
        events: [],
        layout: { padding: { right: 15 } },
        plugins: {
          legend: { display: false },
          tooltip: { enabled: false },
          title: {
            display: true,
            text: chartTitle,
            fullSize: false,
            color: "#000",
            font: { family: FONT, size: 16.67, weight: "normal", lineHeight: 1.2 },
            padding: { top: 13, bottom: 2 },
          },
        },
        scales: {
          x: {
            type: "linear",
            min: -488,
            max: 10340,
            afterFit: (s: any) => { s.height = 58; },
            afterBuildTicks: (s: any) => { s.ticks = xTicks.map((value) => ({ value })); },
            grid: { color: "#b0b0b0", lineWidth: 1.1, tickColor: "#000", tickLength: 5, tickWidth: 1.1 },
            border: { display: false },
            ticks: {
              color: "#000",
              font: { family: FONT, size: 13.75 },
              padding: 3,
              maxRotation: 0,
              autoSkip: false,
              callback: (v: any) => String(v),
            },
            title: {
              display: true,
              text: xLabel,
              color: "#000",
              font: { family: FONT, size: 13.75, lineHeight: 1.2 },
              padding: { top: 0, bottom: 13 },
            },
          },
          y: {
            type: "linear",
            min: 6216.98,
            max: 6284.12,
            afterFit: (s: any) => { s.width = 81; },
            afterBuildTicks: (s: any) => { s.ticks = yTicks.map((value) => ({ value })); },
            grid: { color: "#b0b0b0", lineWidth: 1.1, tickColor: "#000", tickLength: 5, tickWidth: 1.1 },
            border: { display: false },
            ticks: {
              color: "#000",
              font: { family: FONT, size: 13.75 },
              padding: 6,
              autoSkip: false,
              callback: (v: any) => String(v),
            },
            title: {
              display: true,
              text: yLabel,
              color: "#000",
              font: { family: FONT, size: 13.75, lineHeight: 1.2 },
              padding: { top: 13, bottom: 0 },
            },
          },
        },
      },
      plugins: [frameAndLegend],
    } as any);
    return () => chart.destroy();
  }, []);
  return (
    <div style={{ position: "absolute", left: 0, top: 0, width: 1000, height: 1000 }}>
      <canvas ref={ref} width={1000} height={1000} style={{ display: "block" }} />
    </div>
  );
}
